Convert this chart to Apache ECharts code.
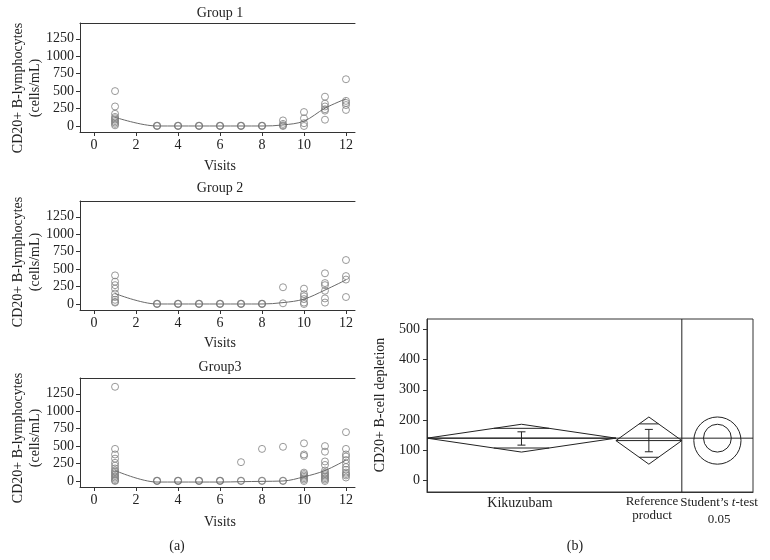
<!DOCTYPE html>
<html>
<head>
<meta charset="utf-8">
<script src="https://cdn.jsdelivr.net/npm/echarts@6/dist/echarts.min.js"></script>
<style>html,body{margin:0;padding:0;background:#fff}#c{width:770px;height:560px}</style>
</head>
<body>
<div id="c"></div>
<script>
// ---------- Data ----------
const visits = [1, 3, 4, 5, 6, 7, 8, 9, 10, 11, 12];
const visitTicks = [0, 2, 4, 6, 8, 10, 12];
const cellTicks = [0, 250, 500, 750, 1000, 1250];
const depletionTicks = [0, 100, 200, 300, 400, 500];
const panelTitles = ['Group 1', 'Group 2', 'Group3'];

const group1Values = [
  [500, 280, 175, 130, 110, 90, 70, 50, 30, 10],
  [0, 2, 5], [0, 2, 5], [0, 2, 5], [0, 2, 5], [0, 2, 5], [0, 2, 5],
  [80, 30, 10, 0],
  [200, 110, 40, 0],
  [420, 320, 280, 240, 220, 90],
  [670, 360, 330, 300, 230]
];
const group1Trend = [125, 0, 0, 0, 0, 0, 0, 15, 70, 255, 390];

const group2Values = [
  [410, 320, 270, 220, 150, 100, 60, 30, 20],
  [0, 2, 5], [0, 2, 5], [0, 2, 5], [0, 2, 5], [0, 2, 5], [0, 2, 5],
  [240, 10],
  [220, 140, 110, 70, 20, 0],
  [440, 300, 270, 190, 80, 20],
  [630, 400, 350, 100]
];
const group2Trend = [150, 0, 0, 0, 0, 0, 0, 20, 70, 200, 345];

const group3Values = [
  [1350, 460, 380, 320, 260, 220, 180, 150, 130, 110, 90, 70, 50, 30, 10, 0],
  [0, 2, 5], [0, 2, 5], [0, 2, 5], [0, 2, 5],
  [270, 5, 0],
  [460, 5, 0],
  [490, 5, 0],
  [540, 380, 360, 120, 100, 80, 60, 40, 20, 0],
  [500, 420, 280, 230, 150, 120, 100, 80, 60, 40, 20, 0],
  [700, 460, 380, 350, 300, 250, 200, 160, 120, 100, 80, 50]
];
const group3Trend = [150, -15, -15, -15, -15, -10, -5, 0, 60, 150, 300];

// Panel (b): one-way analysis
const products = ['Kikuzubam', 'Reference product'];
const productN = [43, 15];
const productMean = [140, 132];
const ciLower = [94, 54];
const ciUpper = [186, 210];
const errLower = [117, 95];
const errUpper = [161, 169];
const grandMean = 140;
const testZoneWidth = 16.2;

// ---------- Build ----------
const FONT = "'Liberation Serif','DejaVu Serif',serif";
const panelTops = [23, 201, 378];
const allValues = [group1Values, group2Values, group3Values];
const allTrends = [group1Trend, group2Trend, group3Trend];
const plain = v => String(v);

const grid = [], xAxis = [], yAxis = [], series = [];
panelTops.forEach((top, i) => {
  grid.push({left: 80, top: top, width: 275, height: 109});
  xAxis.push({
    type: 'value', gridIndex: i, min: -0.67, max: 12.43,
    splitLine: {show: false},
    axisLine: {onZero: false, lineStyle: {color: '#333', width: 1}},
    axisTick: {length: 4, lineStyle: {color: '#333'}, customValues: visitTicks},
    axisLabel: {customValues: visitTicks, formatter: plain, color: '#222', fontFamily: FONT, fontSize: 14, margin: 6}
  });
  xAxis.push({
    type: 'value', gridIndex: i, position: 'top', min: -0.67, max: 12.43,
    splitLine: {show: false}, axisTick: {show: false}, axisLabel: {show: false},
    axisLine: {show: true, onZero: false, lineStyle: {color: '#333', width: 1}}
  });
  yAxis.push({
    type: 'value', gridIndex: i, min: -86, max: 1476,
    splitLine: {show: false},
    axisLine: {show: true, onZero: false, lineStyle: {color: '#333', width: 1}},
    axisTick: {show: true, length: 4, lineStyle: {color: '#333'}, customValues: cellTicks},
    axisLabel: {customValues: cellTicks, formatter: plain, color: '#222', fontFamily: FONT, fontSize: 14, margin: 6}
  });
  const pts = [];
  visits.forEach((v, k) => allValues[i][k].forEach(val => pts.push([v, val])));
  series.push({
    type: 'scatter', xAxisIndex: 2 * i, yAxisIndex: i, data: pts,
    symbol: 'circle', symbolSize: 7,
    itemStyle: {color: 'rgba(0,0,0,0)', borderColor: '#7f7f7f', borderWidth: 1}
  });
  series.push({
    type: 'line', xAxisIndex: 2 * i, yAxisIndex: i, smooth: 0.35, showSymbol: false,
    data: visits.map((v, k) => [v, allTrends[i][k]]),
    lineStyle: {color: '#6a6a6a', width: 1}
  });
});

// Panel (b)
const bi = 3;
const xEnd0 = productN[0];
const xEnd1 = productN[0] + productN[1];
const xMaxB = xEnd1 + testZoneWidth;
grid.push({left: 427, top: 319, width: 326, height: 173, show: true, borderColor: '#333', borderWidth: 1, backgroundColor: 'rgba(0,0,0,0)'});
xAxis.push({type: 'value', gridIndex: bi, min: 0, max: xMaxB, splitLine: {show: false},
  axisLine: {show: true, onZero: false, lineStyle: {color: '#333'}}, axisTick: {show: false}, axisLabel: {show: false}});
yAxis.push({type: 'value', gridIndex: bi, min: -38, max: 534, splitLine: {show: false},
  axisLine: {show: true, onZero: false, lineStyle: {color: '#333'}},
  axisTick: {show: true, length: 4, lineStyle: {color: '#333'}, customValues: depletionTicks},
  axisLabel: {customValues: depletionTicks, formatter: plain, color: '#222', fontFamily: FONT, fontSize: 14, margin: 7}});

const bx = 6, by = 3;
const lineStyleB = {color: '#222', width: 1};
// divider + grand mean
series.push({type: 'line', xAxisIndex: bx, yAxisIndex: by, showSymbol: false, lineStyle: lineStyleB,
  data: [[xEnd1, -38], [xEnd1, 534]]});
series.push({type: 'line', xAxisIndex: bx, yAxisIndex: by, showSymbol: false, lineStyle: lineStyleB,
  data: [[0, grandMean], [xMaxB, grandMean]]});
// diamonds, mean lines, overlap marks
const starts = [0, xEnd0], ends = [xEnd0, xEnd1];
products.forEach((p, k) => {
  const x0 = starts[k], x1 = ends[k], xc = (x0 + x1) / 2, m = productMean[k];
  series.push({type: 'line', xAxisIndex: bx, yAxisIndex: by, showSymbol: false, lineStyle: lineStyleB,
    data: [[x0, m], [xc, ciUpper[k]], [x1, m], [xc, ciLower[k]], [x0, m]]});
  series.push({type: 'line', xAxisIndex: bx, yAxisIndex: by, showSymbol: false, lineStyle: lineStyleB,
    data: [[x0, m], [x1, m]]});
  const halfUp = ciUpper[k] - m, halfDn = m - ciLower[k];
  const f = 1 - 1 / Math.SQRT2;
  const hw = (x1 - x0) / 2 * f;
  series.push({type: 'line', xAxisIndex: bx, yAxisIndex: by, showSymbol: false, lineStyle: lineStyleB,
    connectNulls: false,
    data: [[xc - hw, m + halfUp / Math.SQRT2], [xc + hw, m + halfUp / Math.SQRT2], null,
           [xc - hw, m - halfDn / Math.SQRT2], [xc + hw, m - halfDn / Math.SQRT2]]});
});
// error bars
series.push({type: 'custom', xAxisIndex: bx, yAxisIndex: by,
  data: products.map((p, k) => [(starts[k] + ends[k]) / 2, errLower[k], errUpper[k]]),
  renderItem: function (params, api) {
    const x = api.value(0);
    const a = api.coord([x, api.value(1)]), b = api.coord([x, api.value(2)]);
    const st = {stroke: '#222', lineWidth: 1};
    const c = 4;
    return {type: 'group', children: [
      {type: 'line', shape: {x1: a[0], y1: a[1], x2: b[0], y2: b[1]}, style: st},
      {type: 'line', shape: {x1: a[0] - c, y1: a[1], x2: a[0] + c, y2: a[1]}, style: st},
      {type: 'line', shape: {x1: b[0] - c, y1: b[1], x2: b[0] + c, y2: b[1]}, style: st}
    ]};
  }});
// comparison circles
series.push({type: 'custom', xAxisIndex: bx, yAxisIndex: by,
  data: products.map((p, k) => [xEnd1 + testZoneWidth / 2, productMean[k], (ciUpper[k] - ciLower[k]) / 2]),
  renderItem: function (params, api) {
    const c = api.coord([api.value(0), api.value(1)]);
    const r = api.size([0, api.value(2)])[1];
    return {type: 'circle', shape: {cx: c[0], cy: c[1], r: r}, style: {fill: 'none', stroke: '#222', lineWidth: 1}};
  }});

// texts
const txt = (text, x, y, extra) => Object.assign({type: 'text', x: x, y: y,
  style: Object.assign({text: text, fill: '#222', font: '14px ' + FONT, textAlign: 'center', textVerticalAlign: 'middle'}, extra || {})});
const graphic = [];
panelTitles.forEach((t, i) => graphic.push(txt(t, 220, [13, 188, 367][i])));
[166, 343, 522].forEach(y => graphic.push(txt('Visits', 220, y)));
[88, 262, 438].forEach(y => graphic.push({type: 'text', x: 27, y: y, rotation: Math.PI / 2,
  style: {text: 'CD20+ B-lymphocytes\n(cells/mL)', fill: '#222', font: '14px ' + FONT, textAlign: 'center', textVerticalAlign: 'middle', lineHeight: 17}}));
graphic.push({type: 'text', x: 380, y: 405, rotation: Math.PI / 2,
  style: {text: 'CD20+ B-cell depletion', fill: '#222', font: '14px ' + FONT, textAlign: 'center', textVerticalAlign: 'middle'}});
graphic.push(txt(products[0], 520, 503));
graphic.push(txt('Reference\nproduct', 652, 509, {lineHeight: 14, font: '13px ' + FONT}));
graphic.push({type: 'text', x: 719, y: 511, style: {text: 'Student’s {i|t}-test\n0.05', fill: '#222', font: '13px ' + FONT,
  textAlign: 'center', textVerticalAlign: 'middle', lineHeight: 17,
  rich: {i: {fontStyle: 'italic', fontFamily: FONT, fontSize: 13, fill: '#222'}}}});
graphic.push(txt('(a)', 177, 546));
graphic.push(txt('(b)', 575, 546));

const chart = echarts.init(document.getElementById('c'), null, {renderer: 'canvas'});
chart.setOption({animation: false, backgroundColor: '#fff', grid, xAxis, yAxis, series, graphic});
</script>
</body>
</html>
